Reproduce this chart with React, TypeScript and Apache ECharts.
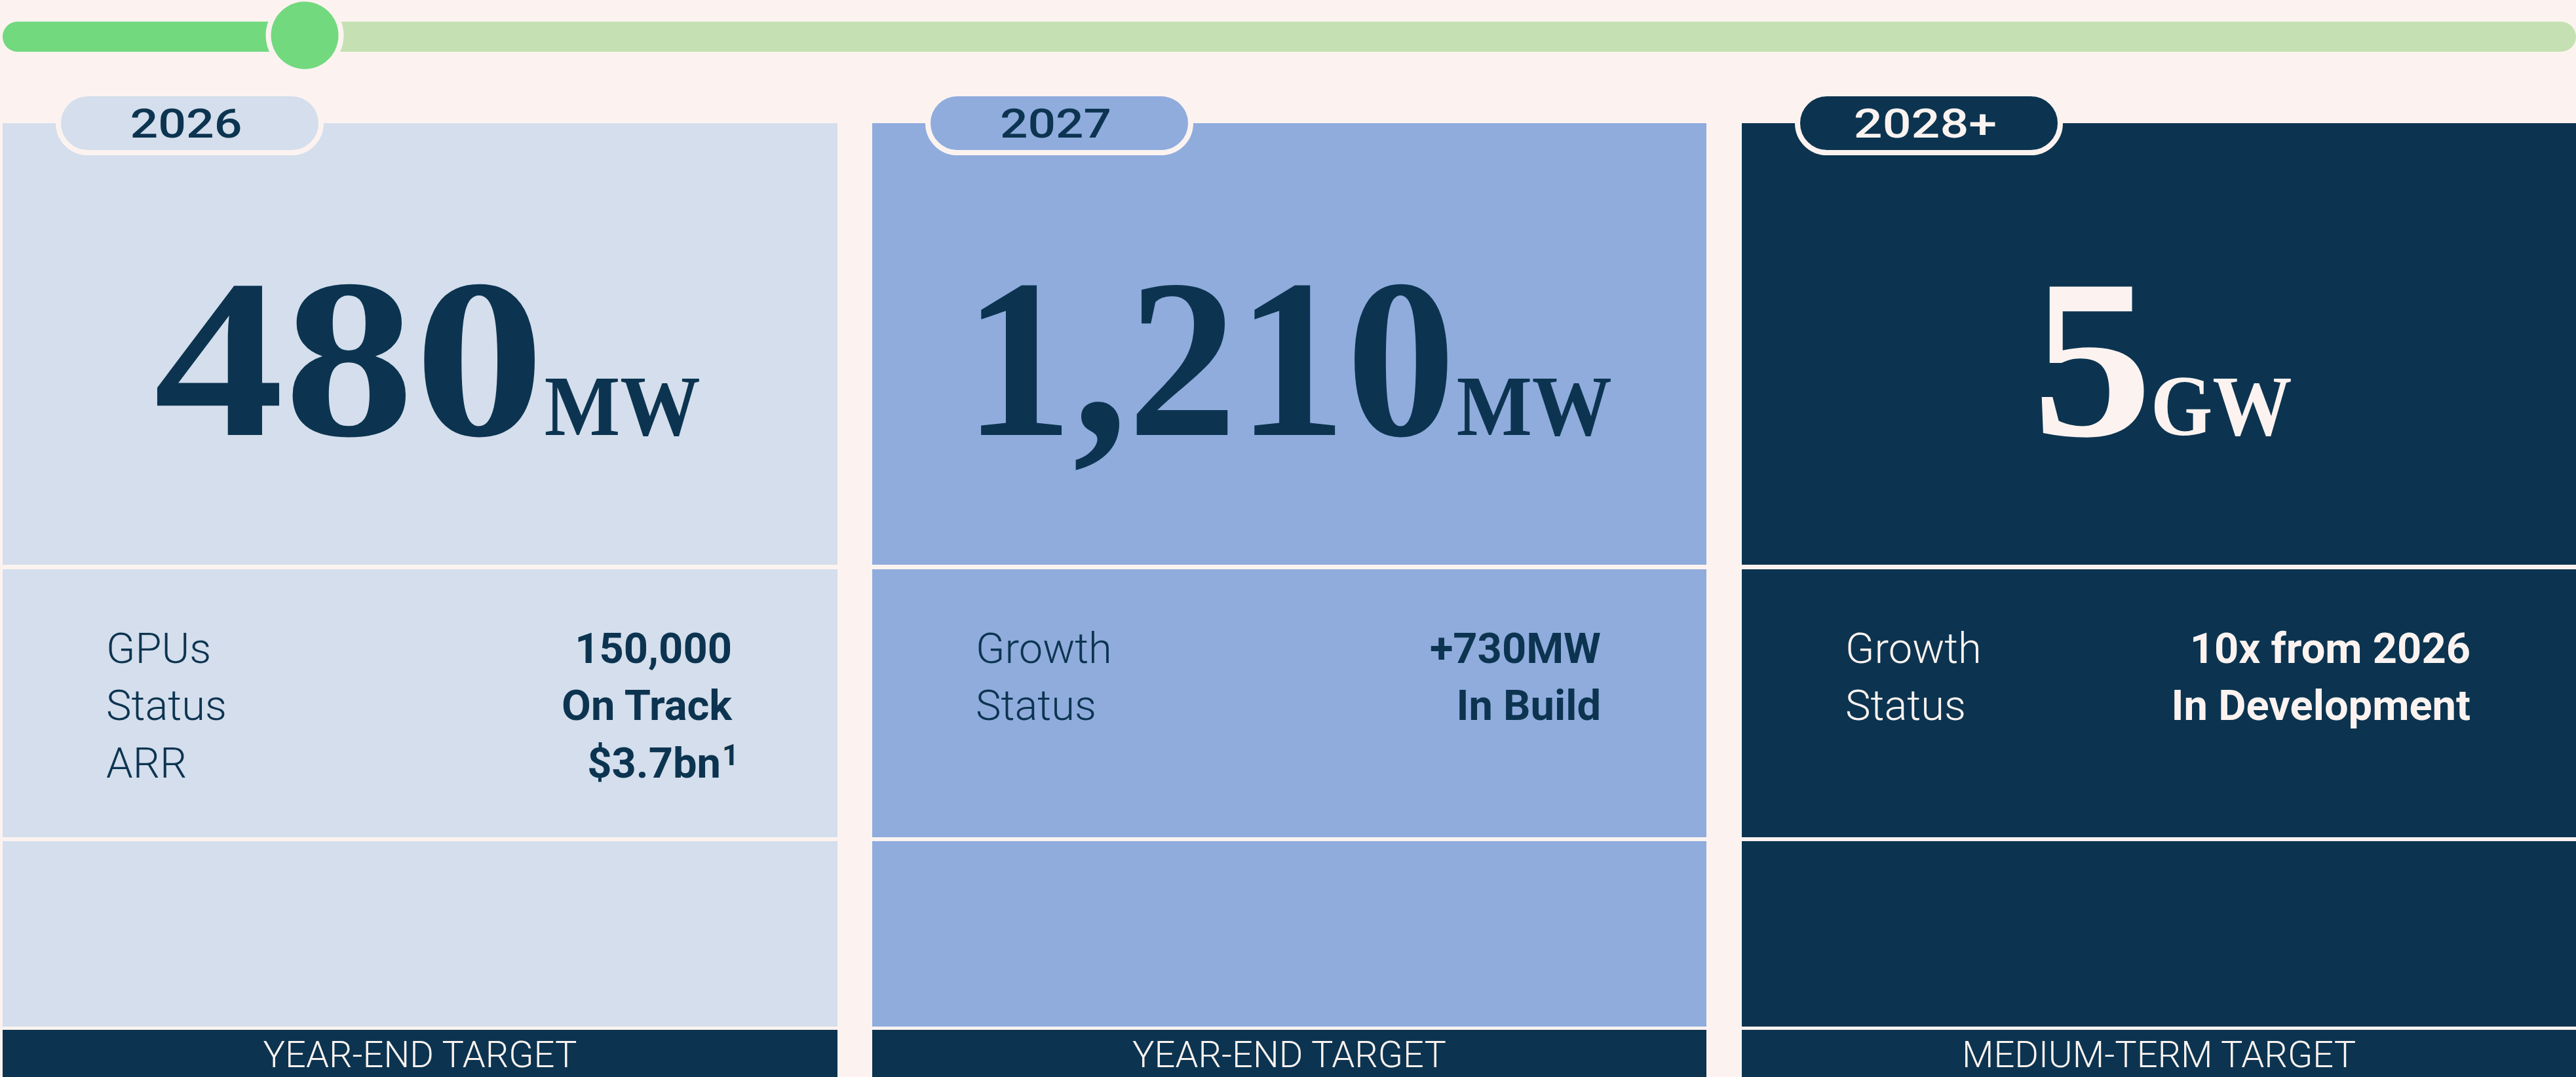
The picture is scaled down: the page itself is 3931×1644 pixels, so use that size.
import React, { useEffect, useRef } from 'react';
import * as echarts from 'echarts';

// ---------- data ----------
const years = ['2026', '2027', '2028+'];
const headlineValues = ['480', '1,210', '5'];
const headlineUnits = ['MW', 'MW', 'GW'];
const footerLabels = ['YEAR-END TARGET', 'YEAR-END TARGET', 'MEDIUM-TERM TARGET'];
const rowLabels = [
  ['GPUs', 'Status', 'ARR'],
  ['Growth', 'Status'],
  ['Growth', 'Status'],
];
const rowValues = [
  ['150,000', 'On Track', '$3.7bn'],
  ['+730MW', 'In Build'],
  ['10x from 2026', 'In Development'],
];
const footnoteMarks = [
  ['', '', '1'],
  ['', ''],
  ['', ''],
];

// ---------- style / layout ----------
const W = 3931;
const H = 1644;
const BG = '#FCF3F0';
const NAVY = '#0C3450';
const GREEN = '#72D97F';
const GREEN_LIGHT = '#C5E1B3';
const CARD_COLORS = ['#D4DEEC', '#8FACDD', '#0C3450'];
const TEXT_COLORS = [NAVY, NAVY, BG];
const CARD_LEFT = [4, 1331, 2658];
const CARD_RIGHT = [1278, 2604, 3931];
const NUM_INK_W = [584, 714, 161];
const UNIT_INK_W = [235, 234, 209];
const YEAR_INK_W = [166, 165, 214];
const SERIF = 'Liberation Serif';
const SANS = 'Roboto';

const canvas = document.createElement('canvas');
const ctx = canvas.getContext('2d') as CanvasRenderingContext2D;
function measure(text: string, size: number, family: string, weight: string | number) {
  ctx.font = `${weight} ${size}px "${family}"`;
  return ctx.measureText(text);
}
function centralOffset(size: number, family: string, weight: string | number) {
  const m = measure('Hg', size, family, weight);
  return (m.fontBoundingBoxAscent - m.fontBoundingBoxDescent) / 2;
}
function textEl(o: {
  x: number; baseline: number; text: string; size: number; family: string;
  weight: string | number; fill: string; align: string; scaleX?: number;
}) {
  return {
    type: 'text',
    x: o.x,
    y: o.baseline - centralOffset(o.size, o.family, o.weight),
    scaleX: o.scaleX ?? 1,
    silent: true,
    style: {
      text: o.text, x: 0, y: 0, fill: o.fill,
      fontSize: o.size, fontFamily: o.family, fontWeight: o.weight,
      align: o.align, verticalAlign: 'middle',
    },
  };
}

function buildGraphics() {
  const g: any[] = [];
  // timeline bar
  g.push({ type: 'rect', silent: true, shape: { x: 4, y: 33, width: W - 4, height: 46, r: 23 }, style: { fill: GREEN_LIGHT } });
  g.push({ type: 'rect', silent: true, shape: { x: 4, y: 33, width: 461, height: 46, r: 23 }, style: { fill: GREEN } });
  g.push({ type: 'circle', silent: true, shape: { cx: 465, cy: 54, r: 55.5 }, style: { fill: GREEN, stroke: BG, lineWidth: 8 } });

  const numProbe = measure('4', 100, SERIF, 'bold');
  const numSize = (100 * 225) / numProbe.actualBoundingBoxAscent;
  const unitProbe = measure('M', 100, SERIF, 'bold');
  const unitSize = (100 * 86) / unitProbe.actualBoundingBoxAscent;

  const rowBaselines = [1012, 1099, 1187];

  years.forEach((year, i) => {
    const left = CARD_LEFT[i];
    const right = CARD_RIGHT[i];
    const w = right - left;
    const cx = (left + right) / 2;
    const fill = CARD_COLORS[i];
    const tc = TEXT_COLORS[i];
    // card sections
    g.push({ type: 'rect', silent: true, shape: { x: left, y: 188, width: w, height: 674 }, style: { fill } });
    g.push({ type: 'rect', silent: true, shape: { x: left, y: 869, width: w, height: 409 }, style: { fill } });
    g.push({ type: 'rect', silent: true, shape: { x: left, y: 1284, width: w, height: 283 }, style: { fill } });
    g.push({ type: 'rect', silent: true, shape: { x: left, y: 1572, width: w, height: H - 1572 }, style: { fill: NAVY } });

    // year pill
    g.push({ type: 'rect', silent: true, shape: { x: left + 85, y: 143, width: 401, height: 90, r: 45 }, style: { fill, stroke: BG, lineWidth: 8 } });
    const ym = measure(year, 62, SANS, 500);
    const yInk = ym.actualBoundingBoxLeft + ym.actualBoundingBoxRight;
    g.push(textEl({ x: left + 280, baseline: 210, text: year, size: 62, family: SANS, weight: 500, fill: tc, align: 'center', scaleX: YEAR_INK_W[i] / yInk }));

    // headline
    const num = headlineValues[i];
    const unit = headlineUnits[i];
    const nm = measure(num, numSize, SERIF, 'bold');
    const nInk = nm.actualBoundingBoxLeft + nm.actualBoundingBoxRight;
    const sN = NUM_INK_W[i] / nInk;
    const um = measure(unit, unitSize, SERIF, 'bold');
    const uInk = um.actualBoundingBoxLeft + um.actualBoundingBoxRight;
    const sU = UNIT_INK_W[i] / uInk;
    const gap = 14;
    const total = NUM_INK_W[i] + gap + UNIT_INK_W[i];
    const start = cx + 10 - total / 2;
    g.push(textEl({ x: start + sN * nm.actualBoundingBoxLeft, baseline: 664, text: num, size: numSize, family: SERIF, weight: 'bold', fill: tc, align: 'left', scaleX: sN }));
    g.push(textEl({ x: start + NUM_INK_W[i] + gap + sU * um.actualBoundingBoxLeft, baseline: 664, text: unit, size: unitSize, family: SERIF, weight: 'bold', fill: tc, align: 'left', scaleX: sU }));

    // rows
    rowLabels[i].forEach((label, r) => {
      const b = rowBaselines[r];
      g.push(textEl({ x: left + 158, baseline: b, text: label, size: 65, family: SANS, weight: 300, fill: tc, align: 'left' }));
      const mark = footnoteMarks[i][r];
      const vRight = mark ? right - 178 : right - 161;
      g.push(textEl({ x: vRight, baseline: b, text: rowValues[i][r], size: 65, family: SANS, weight: 700, fill: tc, align: 'right' }));
      if (mark) {
        g.push(textEl({ x: right - 176, baseline: b - 19, text: mark, size: 44, family: SANS, weight: 700, fill: tc, align: 'left' }));
      }
    });

    // footer
    g.push(textEl({ x: cx, baseline: 1629, text: footerLabels[i], size: 56, family: SANS, weight: 300, fill: BG, align: 'center' }));
  });
  return g;
}

export default function App() {
  const ref = useRef<HTMLDivElement>(null);
  useEffect(() => {
    document.body.style.margin = '0';
    const chart = echarts.init(ref.current as HTMLDivElement, null, { renderer: 'svg', width: W, height: H });
    chart.setOption({
      animation: false,
      backgroundColor: BG,
      graphic: { elements: buildGraphics() },
    });
    return () => chart.dispose();
  }, []);
  return <div ref={ref} style={{ width: W, height: H }} />;
}
